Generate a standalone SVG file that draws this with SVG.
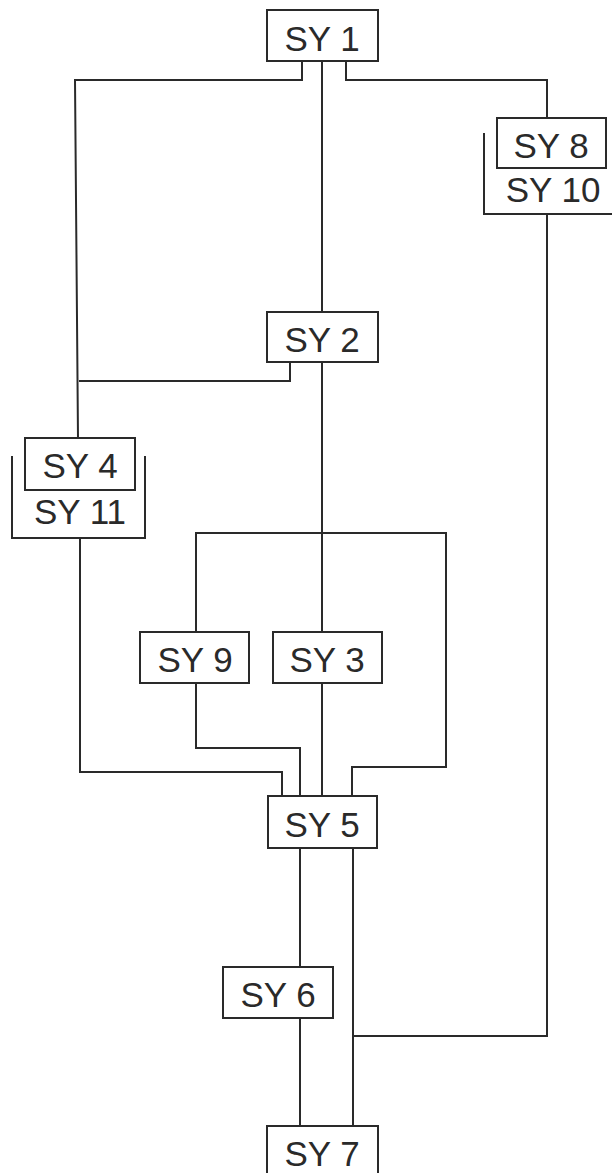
<svg xmlns="http://www.w3.org/2000/svg" width="612" height="1173" viewBox="0 0 612 1173">
<style>
.b{fill:#fff;stroke:#2a2a2a;stroke-width:2}
.t{font-family:"Liberation Sans",Arial,sans-serif;font-size:35px;fill:#2a2a2a;text-anchor:middle}
.c{fill:none;stroke:#2a2a2a;stroke-width:2}
</style>
<rect width="612" height="1173" fill="#fff"/>
<g id="connectors" class="c">
<polyline points="302,61 302,80 75,80 78,438"/>
<line x1="322" y1="61" x2="322" y2="312"/>
<polyline points="346,61 346,80 547,80 547,118"/>
<polyline points="290,362 290,381 79,381"/>
<line x1="322" y1="362" x2="322" y2="632"/>
<polyline points="196,632 196,533 446,533 446,767 352,767 352,796"/>
<polyline points="196,683 196,748 300,748 300,796"/>
<line x1="322" y1="683" x2="322" y2="796"/>
<polyline points="80,538 80,772 282,772 282,796"/>
<line x1="300" y1="848" x2="300" y2="967"/>
<line x1="300" y1="1018" x2="300" y2="1126"/>
<line x1="353" y1="848" x2="353" y2="1126"/>
<polyline points="547,214 547,1036 353,1036"/>
<polyline points="484,133 484,214 612,214"/>
<polyline points="12,456 12,538 145,538 145,456"/>
</g>
<g id="sy1"><rect class="b" x="267" y="10" width="111" height="51"/><text class="t" x="322" y="51">SY 1</text></g>
<g id="sy8"><rect class="b" x="497" y="118" width="109" height="50"/><text class="t" x="551" y="158">SY 8</text></g>
<g id="sy10"><text class="t" x="553" y="202">SY 10</text></g>
<g id="sy2"><rect class="b" x="267" y="312" width="111" height="50"/><text class="t" x="322" y="352">SY 2</text></g>
<g id="sy4"><rect class="b" x="25" y="438" width="110" height="52"/><text class="t" x="80" y="478">SY 4</text></g>
<g id="sy11"><text class="t" x="80" y="524">SY 11</text></g>
<g id="sy9"><rect class="b" x="140" y="632" width="109" height="51"/><text class="t" x="195" y="672">SY 9</text></g>
<g id="sy3"><rect class="b" x="273" y="632" width="109" height="51"/><text class="t" x="327" y="672">SY 3</text></g>
<g id="sy5"><rect class="b" x="268" y="796" width="109" height="52"/><text class="t" x="322" y="837">SY 5</text></g>
<g id="sy6"><rect class="b" x="223" y="967" width="110" height="51"/><text class="t" x="278" y="1007">SY 6</text></g>
<g id="sy7"><rect class="b" x="267" y="1126" width="111" height="52"/><text class="t" x="322" y="1166">SY 7</text></g>
</svg>
